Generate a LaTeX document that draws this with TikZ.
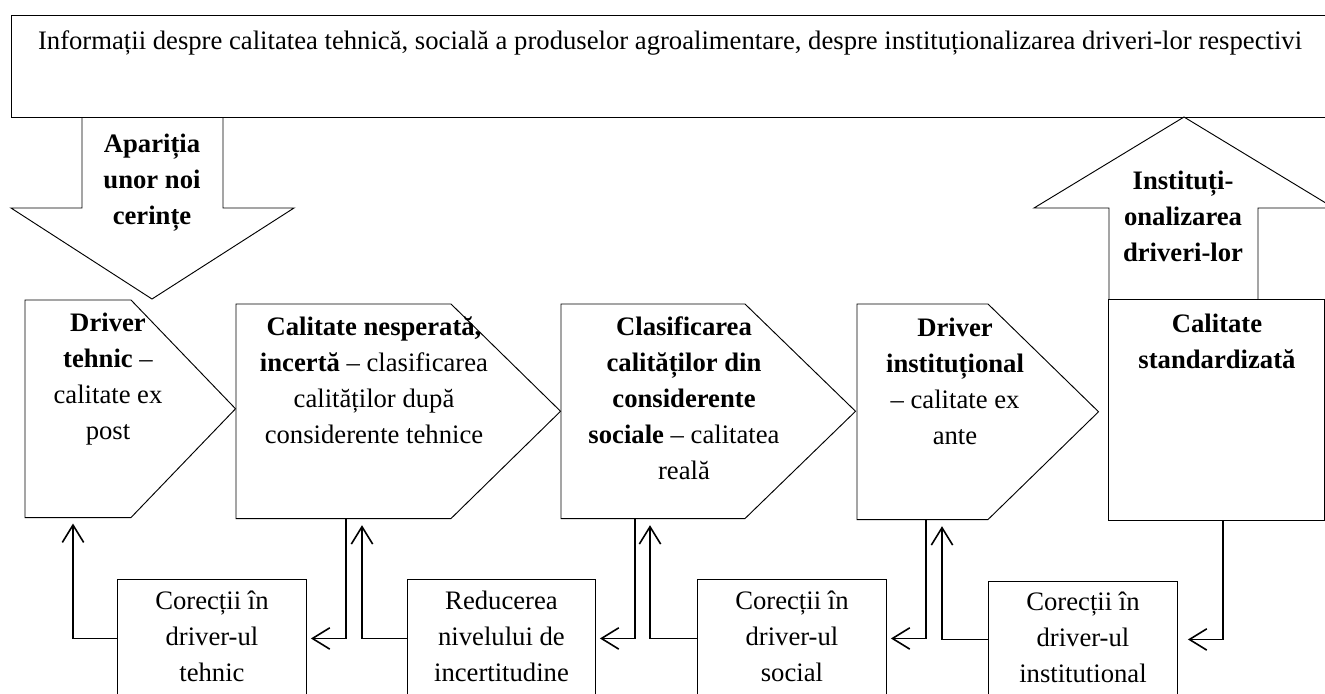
\documentclass[tikz,border=0pt]{standalone}
\usepackage{fontspec}
\setmainfont{Liberation Serif}
\usetikzlibrary{arrows.meta,calc}
\begin{document}
\begin{tikzpicture}[x=0.75pt,y=-0.75pt,
  box/.style={draw,line width=0.7pt,inner sep=0,anchor=north west,align=center,font=\fontsize{20}{27}\selectfont},
  frame/.style={inner sep=0,anchor=north west},
  outline/.style={line width=0.7pt},
  txt/.style={align=center,inner sep=0,font=\fontsize{20}{27}\selectfont},
  conn/.style={line width=1.1pt,-{Straight Barb[length=13pt,width=16pt,line width=1.2pt]}}]
\useasboundingbox (0,0) rectangle (1325,693);
\clip (0,0) rectangle (1325,693);

% top information box
\node[box,minimum width=1329*0.75pt,minimum height=102*0.75pt] (info) at (11,15) {};
\node[txt,anchor=base] (infot) at (670,49) {Informații despre calitatea tehnică, socială a produselor agroalimentare, despre instituționalizarea driveri-lor respectivi};

% down arrow
\draw[outline] (82,117) -- (82,208) -- (11,208) -- (152,299) -- (294,208) -- (223,208) -- (223,117);
\node[txt] (apar) at (152,181) {\textbf{Apariția}\strut\\\textbf{unor noi}\strut\\\textbf{cerințe}\strut};

% up arrow
\draw[outline] (1109,299) -- (1109,208) -- (1034,208) -- (1184,117) -- (1334,208) -- (1258,208) -- (1258,299);
\node[txt] (inst) at (1183,218) {\textbf{Instituți-}\strut\\\textbf{onalizarea}\strut\\\textbf{driveri-lor}\strut};

% pentagons
\node[frame,minimum width=210*0.75pt,minimum height=217*0.75pt] (dt) at (25,300) {};
\draw[outline] (dt.north west) -- ($(dt.north west)+(106,0)$) -- (dt.east) -- ($(dt.south west)+(106,0)$) -- (dt.south west) -- cycle;
\node[txt] (dtt) at (108,378) {\textbf{Driver}\strut\\\textbf{tehnic} –\strut\\calitate ex\strut\\post\strut};

\node[frame,minimum width=324*0.75pt,minimum height=214*0.75pt] (ns) at (236,304) {};
\draw[outline] (ns.north west) -- ($(ns.north west)+(215,0)$) -- (ns.east) -- ($(ns.south west)+(215,0)$) -- (ns.south west) -- cycle;
\node[txt] (nst) at (374,382) {\textbf{Calitate nesperată,}\strut\\\textbf{incertă} – clasificarea\strut\\calităților după\strut\\considerente tehnice\strut};

\node[frame,minimum width=294*0.75pt,minimum height=214*0.75pt] (cl) at (561,304) {};
\draw[outline] (cl.north west) -- ($(cl.north west)+(184,0)$) -- (cl.east) -- ($(cl.south west)+(184,0)$) -- (cl.south west) -- cycle;
\node[txt] (clt) at (684,400) {\textbf{Clasificarea}\strut\\\textbf{calităților din}\strut\\\textbf{considerente}\strut\\\textbf{sociale} – calitatea\strut\\reală\strut};

\node[frame,minimum width=241*0.75pt,minimum height=215*0.75pt] (di) at (857,304) {};
\draw[outline] (di.north west) -- ($(di.north west)+(131,0)$) -- (di.east) -- ($(di.south west)+(131,0)$) -- (di.south west) -- cycle;
\node[txt] (dit) at (955,383) {\textbf{Driver}\strut\\\textbf{instituțional}\strut\\– calitate ex\strut\\ante\strut};

% standardised quality box
\node[box,minimum width=216*0.75pt,minimum height=221*0.75pt] (std) at (1108,299) {};
\node[txt] (stdt) at (1217,343) {\textbf{Calitate}\strut\\\textbf{standardizată}\strut};

% bottom boxes
\node[box,minimum width=189*0.75pt,minimum height=118*0.75pt] (ct) at (117,579) {Corecții în\strut\\driver-ul\strut\\tehnic\strut};
\node[box,minimum width=188*0.75pt,minimum height=118*0.75pt] (red) at (407,579) {Reducerea\strut\\nivelului de\strut\\incertitudine\strut};
\node[box,minimum width=189*0.75pt,minimum height=118*0.75pt] (cs) at (697,579) {Corecții în\strut\\driver-ul\strut\\social\strut};
\node[box,minimum width=189*0.75pt,minimum height=116*0.75pt] (ci) at (988,581) {Corecții în\strut\\driver-ul\strut\\institutional\strut};

% connectors
\draw[conn,shorten >=4.5pt] (ct.west) -| ($(dt.south west)+(48,0)$);
\draw[conn,shorten >=3pt] ($(ns.south west)+(110,0)$) |- (ct.east);
\draw[conn,shorten >=5pt] (red.west) -| ($(ns.south west)+(126,0)$);
\draw[conn,shorten >=3pt] ($(cl.south west)+(74,0)$) |- (red.east);
\draw[conn,shorten >=5pt] (cs.west) -| ($(cl.south west)+(89,0)$);
\draw[conn,shorten >=3pt] ($(di.south west)+(69,0)$) |- (cs.east);
\draw[conn,shorten >=5pt] (ci.west) -| ($(di.south west)+(85,0)$);
\draw[conn,shorten >=7.5pt] ($(std.south west)+(115,0)$) |- (ci.east);
\end{tikzpicture}
\end{document}
